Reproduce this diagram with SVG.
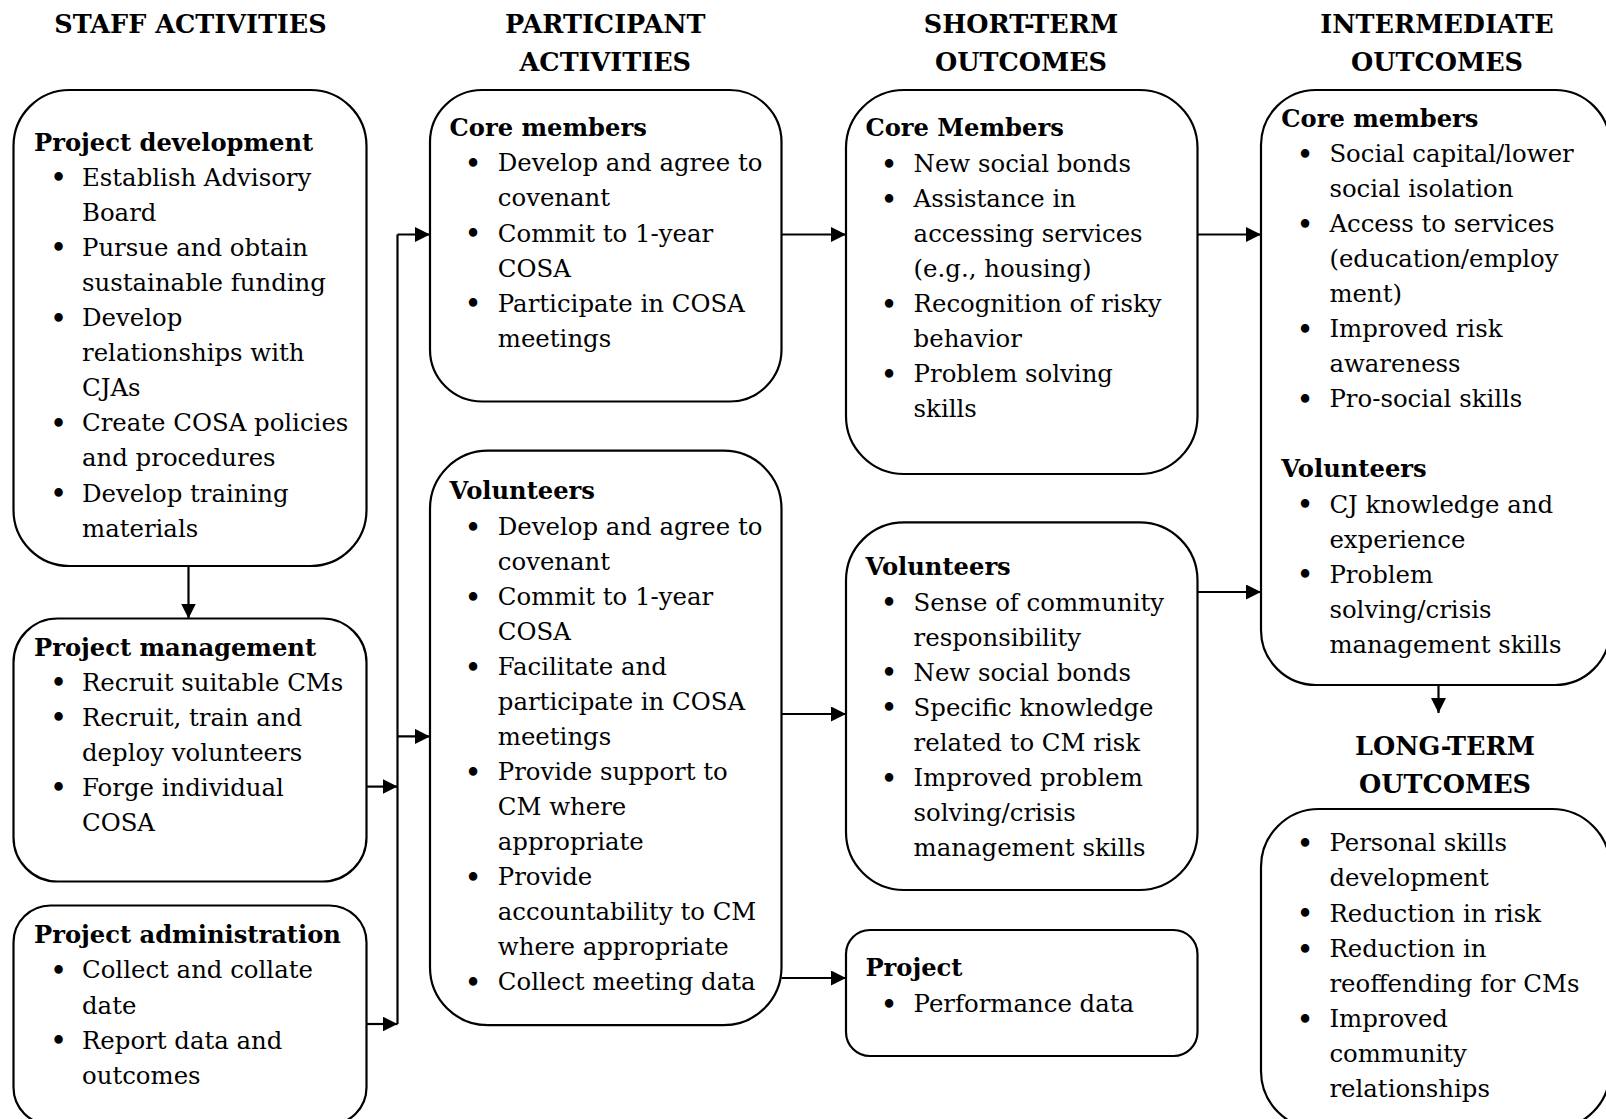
<svg xmlns="http://www.w3.org/2000/svg" width="1606" height="1119" viewBox="0 0 1606 1119">
<defs>
<marker id="ah" markerUnits="userSpaceOnUse" markerWidth="15" markerHeight="15" refX="15" refY="7.5" orient="auto">
<path d="M0,0 L15,7.5 L0,15 z" fill="#000"/>
</marker>
</defs>
<style>
.box{fill:#fff;stroke:#000;stroke-width:2.2}
.t{font-family:"DejaVu Serif",serif;font-weight:bold;font-size:25.5px;text-anchor:middle;fill:#000}
.h{font-family:"DejaVu Serif",serif;font-weight:bold;font-size:24.2px;fill:#000}
.b{font-family:"DejaVu Serif",serif;font-size:24.4px;fill:#000}
.d{font-family:"DejaVu Serif",serif;font-size:29px;text-anchor:middle;fill:#000}
.c{fill:none;stroke:#000;stroke-width:2.2;marker-end:url(#ah)}
.l{fill:none;stroke:#000;stroke-width:2.2}
</style>
<rect width="1606" height="1119" fill="#fff"/>
<g id="headers">
<text class="t" x="190.5" y="33">STAFF ACTIVITIES</text>
<text class="t" x="605.3" y="33">PARTICIPANT</text>
<text class="t" x="605.3" y="71">ACTIVITIES</text>
<text class="t" x="1021" y="33">SHORT-TERM</text>
<text class="t" x="1021" y="71">OUTCOMES</text>
<text class="t" x="1437" y="33">INTERMEDIATE</text>
<text class="t" x="1437" y="71">OUTCOMES</text>
<text class="t" x="1445" y="755">LONG-TERM</text>
<text class="t" x="1445" y="793">OUTCOMES</text>
</g>
<g id="connectors">
<path class="c" d="M188.5,566 V618.5"/>
<path class="l" d="M397.5,1024 V234.5"/>
<path class="c" d="M397.5,234.5 H430"/>
<path class="c" d="M397.5,736.4 H430"/>
<path class="c" d="M366.5,786.6 H397.5"/>
<path class="c" d="M366.5,1024 H397.5"/>
<path class="c" d="M781.5,234.5 H846"/>
<path class="c" d="M781.5,714 H846"/>
<path class="c" d="M781.5,978 H846"/>
<path class="c" d="M1197.5,234.5 H1261"/>
<path class="c" d="M1197.5,592 H1261"/>
<path class="c" d="M1438.5,686 V713"/>
</g>
<g id="staff-development">
<rect class="box" x="13.5" y="90" width="353" height="476" rx="56"/>
<text class="h" x="34" y="150.5">Project development</text>
<text class="d" x="58.5" y="188.1">•</text><text class="b" x="82" y="185.6">Establish Advisory</text>
<text class="b" x="82" y="220.7">Board</text>
<text class="d" x="58.5" y="258.3">•</text><text class="b" x="82" y="255.8">Pursue and obtain</text>
<text class="b" x="82" y="290.9">sustainable funding</text>
<text class="d" x="58.5" y="328.5">•</text><text class="b" x="82" y="326">Develop</text>
<text class="b" x="82" y="361.1">relationships with</text>
<text class="b" x="82" y="396.2">CJAs</text>
<text class="d" x="58.5" y="433.8">•</text><text class="b" x="82" y="431.3">Create COSA policies</text>
<text class="b" x="82" y="466.4">and procedures</text>
<text class="d" x="58.5" y="504">•</text><text class="b" x="82" y="501.5">Develop training</text>
<text class="b" x="82" y="536.6">materials</text>
</g>
<g id="staff-management">
<rect class="box" x="13.5" y="618.5" width="353" height="263" rx="44"/>
<text class="h" x="34" y="655.5">Project management</text>
<text class="d" x="58.5" y="693.1">•</text><text class="b" x="82" y="690.6">Recruit suitable CMs</text>
<text class="d" x="58.5" y="728.2">•</text><text class="b" x="82" y="725.7">Recruit, train and</text>
<text class="b" x="82" y="760.8">deploy volunteers</text>
<text class="d" x="58.5" y="798.4">•</text><text class="b" x="82" y="795.9">Forge individual</text>
<text class="b" x="82" y="831">COSA</text>
</g>
<g id="staff-administration">
<rect class="box" x="13.5" y="905.5" width="353" height="219" rx="37"/>
<text class="h" x="34" y="943.3">Project administration</text>
<text class="d" x="58.5" y="980.9">•</text><text class="b" x="82" y="978.4">Collect and collate</text>
<text class="b" x="82" y="1013.5">date</text>
<text class="d" x="58.5" y="1051.1">•</text><text class="b" x="82" y="1048.6">Report data and</text>
<text class="b" x="82" y="1083.7">outcomes</text>
</g>
<g id="participant-core-members">
<rect class="box" x="430" y="90" width="351.5" height="311.5" rx="52"/>
<text class="h" x="449.6" y="136.2">Core members</text>
<text class="d" x="473" y="173.8">•</text><text class="b" x="497.8" y="171.3">Develop and agree to</text>
<text class="b" x="497.8" y="206.4">covenant</text>
<text class="d" x="473" y="244">•</text><text class="b" x="497.8" y="241.5">Commit to 1-year</text>
<text class="b" x="497.8" y="276.6">COSA</text>
<text class="d" x="473" y="314.2">•</text><text class="b" x="497.8" y="311.7">Participate in COSA</text>
<text class="b" x="497.8" y="346.8">meetings</text>
</g>
<g id="participant-volunteers">
<rect class="box" x="430" y="450.7" width="351.5" height="574.5" rx="58"/>
<text class="h" x="449.6" y="499">Volunteers</text>
<text class="d" x="473" y="537.5">•</text><text class="b" x="497.8" y="535">Develop and agree to</text>
<text class="b" x="497.8" y="570">covenant</text>
<text class="d" x="473" y="607.5">•</text><text class="b" x="497.8" y="605">Commit to 1-year</text>
<text class="b" x="497.8" y="640">COSA</text>
<text class="d" x="473" y="677.5">•</text><text class="b" x="497.8" y="675">Facilitate and</text>
<text class="b" x="497.8" y="710">participate in COSA</text>
<text class="b" x="497.8" y="745">meetings</text>
<text class="d" x="473" y="782.5">•</text><text class="b" x="497.8" y="780">Provide support to</text>
<text class="b" x="497.8" y="815">CM where</text>
<text class="b" x="497.8" y="850">appropriate</text>
<text class="d" x="473" y="887.5">•</text><text class="b" x="497.8" y="885">Provide</text>
<text class="b" x="497.8" y="920">accountability to CM</text>
<text class="b" x="497.8" y="955">where appropriate</text>
<text class="d" x="473" y="992.5">•</text><text class="b" x="497.8" y="990">Collect meeting data</text>
</g>
<g id="short-core-members">
<rect class="box" x="846" y="90" width="351.5" height="384" rx="58"/>
<text class="h" x="865.4" y="136.2">Core Members</text>
<text class="d" x="889" y="174.5">•</text><text class="b" x="913.6" y="172">New social bonds</text>
<text class="d" x="889" y="209.5">•</text><text class="b" x="913.6" y="207">Assistance in</text>
<text class="b" x="913.6" y="242">accessing services</text>
<text class="b" x="913.6" y="277">(e.g., housing)</text>
<text class="d" x="889" y="314.5">•</text><text class="b" x="913.6" y="312">Recognition of risky</text>
<text class="b" x="913.6" y="347">behavior</text>
<text class="d" x="889" y="384.5">•</text><text class="b" x="913.6" y="382">Problem solving</text>
<text class="b" x="913.6" y="417">skills</text>
</g>
<g id="short-volunteers">
<rect class="box" x="846" y="522.4" width="351.5" height="367.6" rx="58"/>
<text class="h" x="865.4" y="574.6">Volunteers</text>
<text class="d" x="889" y="613">•</text><text class="b" x="913.6" y="610.5">Sense of community</text>
<text class="b" x="913.6" y="645.6">responsibility</text>
<text class="d" x="889" y="683.2">•</text><text class="b" x="913.6" y="680.7">New social bonds</text>
<text class="d" x="889" y="718.3">•</text><text class="b" x="913.6" y="715.8">Specific knowledge</text>
<text class="b" x="913.6" y="750.9">related to CM risk</text>
<text class="d" x="889" y="788.5">•</text><text class="b" x="913.6" y="786">Improved problem</text>
<text class="b" x="913.6" y="821.1">solving/crisis</text>
<text class="b" x="913.6" y="856.2">management skills</text>
</g>
<g id="short-project">
<rect class="box" x="846" y="930" width="351.5" height="126" rx="24"/>
<text class="h" x="865.4" y="976">Project</text>
<text class="d" x="889" y="1014.5">•</text><text class="b" x="913.6" y="1012">Performance data</text>
</g>
<g id="intermediate-outcomes">
<rect class="box" x="1261" y="90" width="349" height="595" rx="55"/>
<text class="h" x="1281.3" y="127">Core members</text>
<text class="d" x="1305" y="164.5">•</text><text class="b" x="1329.4" y="162">Social capital/lower</text>
<text class="b" x="1329.4" y="197">social isolation</text>
<text class="d" x="1305" y="234.5">•</text><text class="b" x="1329.4" y="232">Access to services</text>
<text class="b" x="1329.4" y="267">(education/employ</text>
<text class="b" x="1329.4" y="302">ment)</text>
<text class="d" x="1305" y="339.5">•</text><text class="b" x="1329.4" y="337">Improved risk</text>
<text class="b" x="1329.4" y="372">awareness</text>
<text class="d" x="1305" y="409.5">•</text><text class="b" x="1329.4" y="407">Pro-social skills</text>
<text class="h" x="1281.3" y="477.3">Volunteers</text>
<text class="d" x="1305" y="515">•</text><text class="b" x="1329.4" y="512.5">CJ knowledge and</text>
<text class="b" x="1329.4" y="547.5">experience</text>
<text class="d" x="1305" y="585">•</text><text class="b" x="1329.4" y="582.5">Problem</text>
<text class="b" x="1329.4" y="617.5">solving/crisis</text>
<text class="b" x="1329.4" y="652.5">management skills</text>
</g>
<g id="long-term-outcomes">
<rect class="box" x="1261" y="809" width="349" height="320" rx="58"/>
<text class="d" x="1305" y="853.5">•</text><text class="b" x="1329.4" y="851">Personal skills</text>
<text class="b" x="1329.4" y="886">development</text>
<text class="d" x="1305" y="924">•</text><text class="b" x="1329.4" y="921.5">Reduction in risk</text>
<text class="d" x="1305" y="959.5">•</text><text class="b" x="1329.4" y="957">Reduction in</text>
<text class="b" x="1329.4" y="992">reoffending for CMs</text>
<text class="d" x="1305" y="1029.5">•</text><text class="b" x="1329.4" y="1027">Improved</text>
<text class="b" x="1329.4" y="1062">community</text>
<text class="b" x="1329.4" y="1097">relationships</text>
</g>
</svg>
